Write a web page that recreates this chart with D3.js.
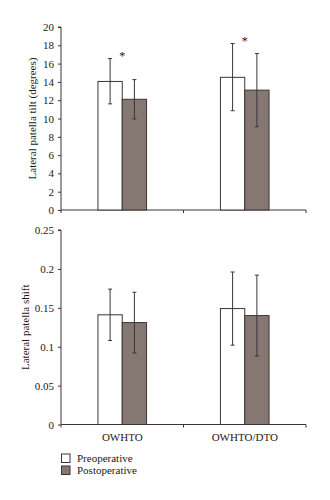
<!DOCTYPE html>
<html><head><meta charset="utf-8">
<script src="https://cdn.jsdelivr.net/npm/d3@7"></script>
<style>
html,body{margin:0;padding:0;background:#fff;}
svg{display:block;font-family:"Liberation Serif","DejaVu Serif",serif;}
</style></head>
<body><svg id="c" width="330" height="500"></svg>
<script>
const categories = ["OWHTO", "OWHTO/DTO"];
const seriesNames = ["Preoperative", "Postoperative"];
const tiltMean = [[14.05, 12.1], [14.5, 13.1]];
const tiltLow = [[11.6, 9.95], [10.85, 9.1]];
const tiltHigh = [[16.55, 14.25], [18.2, 17.1]];
const shiftMean = [[0.141, 0.131], [0.149, 0.14]];
const shiftLow = [[0.108, 0.092], [0.102, 0.088]];
const shiftHigh = [[0.174, 0.170], [0.196, 0.192]];
const tiltTicks = [0, 2, 4, 6, 8, 10, 12, 14, 16, 18, 20];
const shiftTicks = [0, 0.05, 0.1, 0.15, 0.2, 0.25];
const tiltStars = [17.2, 18.8]; // asterisk height per category

const colors = ["#ffffff", "#857873"];
const ink = "#3c3434";
const txt = "#1e1818";
const svg = d3.select("#c");

const x = d3.scaleBand().domain(categories).range([61, 306]);
const xs = d3.scaleBand().domain(seriesNames).range([0, x.bandwidth()]).paddingInner(0).paddingOuter(1.52);

function panel(yRange, domain, ticks, fmt, mean, low, high, label, labelX) {
  const y = d3.scaleLinear().domain(domain).range(yRange);
  const g = svg.append("g");
  const ax = g.append("g").attr("transform", "translate(61,0)")
    .call(d3.axisLeft(y).tickValues(ticks).tickFormat(fmt).tickSize(3).tickPadding(4));
  ax.select(".domain").attr("stroke", ink).attr("d", `M-3,${yRange[1]}H0V${yRange[0]}`);
  ax.selectAll(".tick line").attr("stroke", ink);
  ax.selectAll(".tick text").attr("fill", txt).style("font-size", "11px").style("font-family", "'Liberation Serif',serif");
  const xa = g.append("g");
  xa.append("line").attr("x1", 61).attr("x2", 306).attr("y1", yRange[0]).attr("y2", yRange[0]).attr("stroke", ink);
  [61, x(categories[1]), 306].forEach(t => xa.append("line").attr("x1", t).attr("x2", t).attr("y1", yRange[0]).attr("y2", yRange[0] + 3).attr("stroke", ink));
  categories.forEach((c, ci) => {
    seriesNames.forEach((s, si) => {
      const bx = x(c) + xs(s);
      g.append("rect").attr("x", bx).attr("width", xs.bandwidth()).attr("y", y(mean[ci][si]))
        .attr("height", y(domain[0]) - y(mean[ci][si])).attr("fill", colors[si]).attr("stroke", ink).attr("stroke-width", 1);
      const cx = bx + xs.bandwidth() / 2;
      g.append("line").attr("x1", cx).attr("x2", cx).attr("y1", y(high[ci][si])).attr("y2", y(low[ci][si])).attr("stroke", ink);
      [high[ci][si], low[ci][si]].forEach(v => g.append("line").attr("x1", cx - 2).attr("x2", cx + 2).attr("y1", y(v)).attr("y2", y(v)).attr("stroke", ink));
    });
  });
  const cy = (yRange[0] + yRange[1]) / 2;
  g.append("text").attr("transform", `translate(${labelX},${cy}) rotate(-90)`).attr("text-anchor", "middle")
    .style("font-size", "11px").attr("fill", txt).text(label);
  return {g, y};
}

const tiltPanel = panel([210, 27], [0, 20], tiltTicks, d3.format("d"), tiltMean, tiltLow, tiltHigh, "Lateral patella tilt (degrees)", 36);
categories.forEach((c, ci) => {
  tiltPanel.g.append("text").attr("x", x(c) + xs(seriesNames[1])).attr("y", tiltPanel.y(tiltStars[ci]) + 7)
    .attr("text-anchor", "middle").style("font-size", "12px").attr("fill", txt).text("*");
});
const shiftPanel = panel([424.5, 230], [0, 0.25], shiftTicks, d => d === 0 ? "0" : String(d), shiftMean, shiftLow, shiftHigh, "Lateral patella shift", 29);

categories.forEach(c => {
  svg.append("text").attr("x", x(c) + x.bandwidth() / 2).attr("y", 441).attr("text-anchor", "middle")
    .style("font-size", "11px").attr("fill", txt).text(c);
});
seriesNames.forEach((s, i) => {
  const ly = 454 + i * 12;
  svg.append("rect").attr("x", 61.5).attr("y", ly).attr("width", 8.5).attr("height", 8.5).attr("fill", colors[i]).attr("stroke", ink);
  svg.append("text").attr("x", 77).attr("y", ly + 8).style("font-size", "11px").attr("fill", txt).text(s);
});
</script></body></html>
